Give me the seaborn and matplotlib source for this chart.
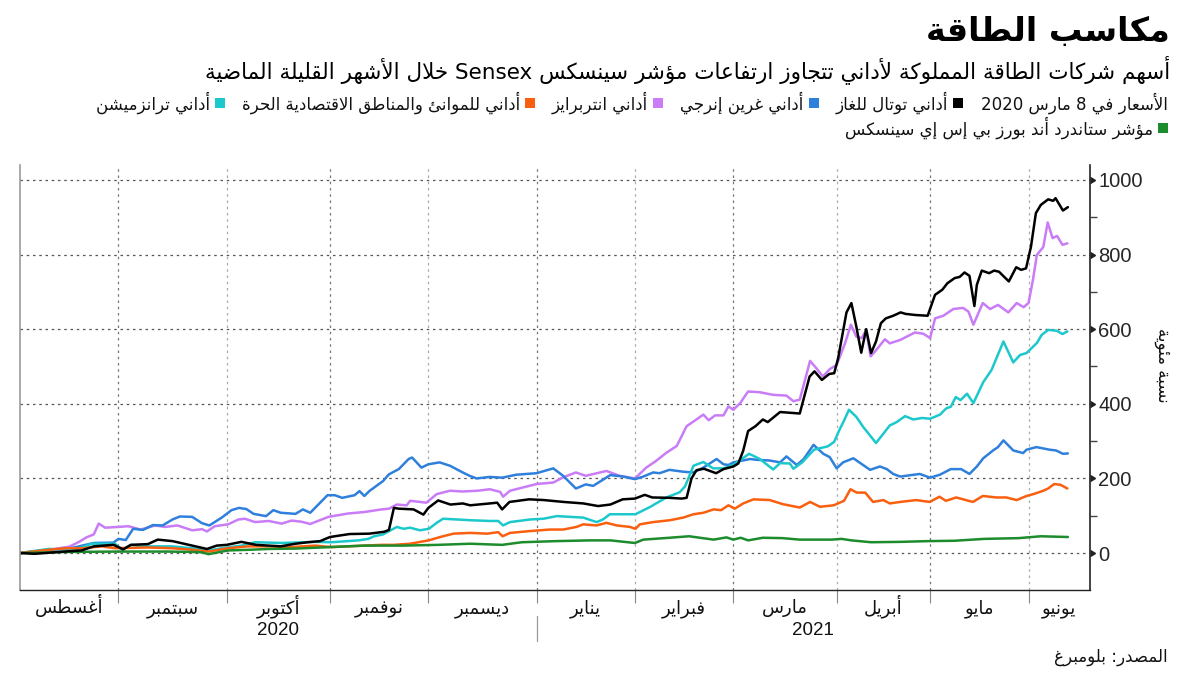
import re
import numpy as np
import pandas as pd
import matplotlib
matplotlib.use("Agg")
import matplotlib.pyplot as plt
from matplotlib.patches import Rectangle
from matplotlib.lines import Line2D
import seaborn as sns

# ---------------- Arabic shaping helper (matplotlib has no complex text layout) -------------
_AR = [('ء', 0xFE80, 1), ('آ', 0xFE81, 2), ('أ', 0xFE83, 2), ('ؤ', 0xFE85, 2), ('إ', 0xFE87, 2),
       ('ئ', 0xFE89, 4), ('ا', 0xFE8D, 2), ('ب', 0xFE8F, 4), ('ة', 0xFE93, 2), ('ت', 0xFE95, 4),
       ('ث', 0xFE99, 4), ('ج', 0xFE9D, 4), ('ح', 0xFEA1, 4), ('خ', 0xFEA5, 4), ('د', 0xFEA9, 2),
       ('ذ', 0xFEAB, 2), ('ر', 0xFEAD, 2), ('ز', 0xFEAF, 2), ('س', 0xFEB1, 4), ('ش', 0xFEB5, 4),
       ('ص', 0xFEB9, 4), ('ض', 0xFEBD, 4), ('ط', 0xFEC1, 4), ('ظ', 0xFEC5, 4), ('ع', 0xFEC9, 4),
       ('غ', 0xFECD, 4), ('ف', 0xFED1, 4), ('ق', 0xFED5, 4), ('ك', 0xFED9, 4), ('ل', 0xFEDD, 4),
       ('م', 0xFEE1, 4), ('ن', 0xFEE5, 4), ('ه', 0xFEE9, 4), ('و', 0xFEED, 2), ('ى', 0xFEEF, 2),
       ('ي', 0xFEF1, 4)]
_TABLE = {c: (b, n) for c, b, n in _AR}
_LAMALEF = {'آ': 0xFEF5, 'أ': 0xFEF7, 'إ': 0xFEF9, 'ا': 0xFEFB}


def _jt(item):
    kind, c = item
    if kind == 'LA':
        return 'R'
    if c in _TABLE:
        n = _TABLE[c][1]
        return 'D' if n == 4 else ('R' if n == 2 else 'U')
    return 'N'


def ar(text):
    items, i = [], 0
    while i < len(text):
        c = text[i]
        if c == 'ل' and i + 1 < len(text) and text[i + 1] in _LAMALEF:
            items.append(('LA', text[i + 1]))
            i += 2
        else:
            items.append(('C', c))
            i += 1
    out = []
    for k, it in enumerate(items):
        t = _jt(it)
        p = _jt(items[k - 1]) if k > 0 else 'N'
        q = _jt(items[k + 1]) if k + 1 < len(items) else 'N'
        jp = t in ('D', 'R') and p == 'D'
        jn = t == 'D' and q in ('D', 'R')
        if it[0] == 'LA':
            out.append(chr(_LAMALEF[it[1]] + (1 if jp else 0)))
        elif t in ('D', 'R'):
            b, _ = _TABLE[it[1]]
            f = 3 if (jp and jn) else (1 if jp else (2 if jn else 0))
            out.append(chr(b + f))
        elif t == 'U':
            out.append(chr(_TABLE[it[1]][0]))
        else:
            out.append(it[1])
    s = ''.join(out)[::-1]
    return re.sub(r'[A-Za-z0-9]+', lambda m: m.group(0)[::-1], s)


# ---------------- data (x = trading-day index from early Aug 2020) ----------------
total_gas = [(0, 0), (3, -2), (9, 4), (12.5, 7), (15, 18), (19, 22), (21, 10), (22.5, 22), (26, 24), (28, 36),
             (31, 32), (35, 20), (38, 11), (40, 20), (42, 22), (45, 30), (48, 22), (50.5, 20), (53, 18), (56, 25),
             (58.5, 29), (61, 32), (63, 43), (67, 51), (71, 52), (74, 57), (75, 62), (76, 121), (77, 119), (80, 117),
             (82, 103), (83, 121), (85, 141), (87.5, 130), (90, 133), (91.5, 128), (95.5, 133), (97, 135), (98, 117),
             (99.5, 137), (103.5, 144), (106.5, 142), (110.5, 137), (114.5, 133), (117.5, 126), (120, 130),
             (122.5, 144), (125, 146), (127, 156), (128.5, 149), (132, 148), (134.5, 146), (135.5, 148), (136.5, 200),
             (137.5, 222), (139, 226), (141.5, 214), (143, 225), (145, 232), (146, 240), (147, 274), (148, 327),
             (149.5, 340), (151, 358), (152, 351), (154.5, 378), (158.5, 374), (160.5, 473), (161.5, 487), (163, 464),
             (164.5, 480), (165.5, 482), (166.3, 522), (168, 645), (169, 670), (170, 607), (171, 537), (172, 600),
             (173, 536), (174, 567), (175, 616), (176, 629), (177.5, 636), (179, 645), (180, 641), (182, 638),
             (184.5, 636), (186, 692), (187.5, 706), (188.5, 723), (190, 737), (191, 740), (192, 752), (193, 743),
             (194, 662), (194.5, 719), (195.5, 757), (197, 750), (198, 757), (199, 754), (201, 728), (202.5, 766),
             (203.5, 759), (204.5, 763), (205.5, 821), (206.5, 911), (207.5, 933), (209, 948), (210, 944),
             (210.5, 951), (212, 918), (213, 927)]

green_energy = [(0, 0), (5, 8), (10, 12), (15, 27), (19, 28), (20, 38), (21.5, 35), (23, 65), (25, 62), (27, 75),
                (29, 74), (31, 90), (32.5, 98), (35, 97), (37, 80), (38.5, 74), (41, 95), (43, 115), (44.5, 121),
                (46, 118), (47.5, 105), (50, 99), (51.5, 115), (53, 108), (56, 105), (57.5, 117), (59, 108),
                (62.5, 155), (64, 155), (65.5, 148), (68, 155), (69, 166), (70, 153), (71, 166), (73.8, 193),
                (75, 211), (77, 225), (79, 252), (79.7, 256), (81.6, 229), (83, 238), (85.3, 243), (87.4, 234),
                (90, 216), (91.4, 207), (92.8, 200), (95.5, 204), (98, 202), (100.9, 210), (105, 214), (108.4, 227),
                (110.4, 207), (113, 173), (115, 184), (116.5, 180), (120, 209), (122.6, 205), (125, 198),
                (126.7, 205), (128.7, 216), (130, 214), (132, 223), (134.8, 218), (136.9, 216), (138.9, 229),
                (141.6, 252), (143, 238), (144, 236), (145, 243), (148.4, 252), (149.7, 250), (152.4, 248),
                (154.5, 243), (155.8, 259), (157.9, 236), (159.3, 252), (161.3, 290), (163.3, 266), (164.6, 257),
                (166, 227), (167.3, 243), (169.4, 254), (172.8, 223), (174.8, 232), (176.2, 225), (177.5, 212),
                (178.9, 205), (182.9, 212), (185, 202), (187, 210), (189.2, 225), (191.3, 225), (193, 212),
                (194.5, 232), (195.8, 254), (197.8, 275), (198.8, 284), (199.9, 302), (201.9, 275), (203.9, 268),
                (204.6, 277), (206.6, 284), (209.3, 277), (210.6, 275), (212, 266), (213, 267)]

enterprises = [(0, 0), (5, 7), (10, 17), (12, 30), (13.5, 42), (15, 50), (16, 79), (17.3, 68), (20, 70), (22, 72),
               (24.5, 63), (27.5, 74), (29.5, 70), (32, 74), (35, 61), (37, 64), (38, 58), (39.6, 72), (42.3, 77),
               (44.4, 90), (45.7, 92), (47.8, 83), (50.5, 86), (53.2, 79), (55.2, 87), (57.2, 84), (59, 78),
               (62.7, 97), (66.7, 106), (70, 110), (73.5, 117), (75, 119), (76.6, 130), (78.6, 128), (79.3, 140),
               (82.6, 135), (84.7, 158), (87.4, 167), (90, 165), (93, 167), (95.5, 171), (97.6, 164), (98.2, 151),
               (99.6, 167), (102.3, 176), (105, 185), (108.4, 189), (110.4, 203), (113, 216), (115, 207),
               (117.9, 216), (119.2, 220), (121.9, 207), (125, 200), (127.3, 229), (129.3, 247), (131.4, 269),
               (133.5, 287), (135.5, 340), (137.5, 358), (138.9, 371), (140, 356), (141.3, 369), (143, 369),
               (144, 393), (145, 384), (146.4, 402), (148, 433), (150.4, 431), (153.1, 424), (155.8, 422),
               (157.2, 407), (158.5, 411), (160.6, 515), (161.9, 495), (163.2, 473), (164.6, 493), (166, 504),
               (167.7, 562), (168.9, 612), (170, 580), (171.1, 576), (172, 598), (172.9, 527), (174.1, 545),
               (175.8, 573), (176.8, 562), (178.9, 571), (181.9, 591), (183.6, 588), (185, 576), (186, 629),
               (187.7, 636), (189.7, 654), (191.7, 657), (192.8, 647), (193.8, 612), (195.7, 670), (197.2, 654),
               (198.8, 665), (200.9, 645), (202.6, 670), (204, 659), (205, 670), (205.9, 732), (206.7, 799),
               (208, 820), (208.9, 886), (209.9, 844), (210.8, 850), (211.9, 826), (212.9, 830)]

ports = [(0, 0), (6, 9), (9.5, 13), (13, 13), (16.6, 18), (19.3, 13), (26, 15), (30.8, 13), (34.9, 9), (38.3, 4),
         (42.3, 13), (46.4, 18), (50.5, 18), (55.2, 16), (60, 20), (63.3, 16), (66.7, 18), (70.1, 20), (73.5, 22),
         (76, 22), (79.3, 25), (83.1, 34), (85.4, 43), (88.1, 52), (91.5, 54), (95, 52), (97.2, 56), (98.1, 45),
         (99.6, 54), (103.7, 59), (107.7, 63), (110.4, 63), (113.1, 70), (114.5, 77), (117.2, 74), (119.2, 81),
         (121.3, 74), (124, 70), (125.1, 65), (126, 77), (128.7, 83), (132.1, 88), (134.8, 95), (136.9, 104),
         (138.9, 108), (141, 117), (142.5, 115), (144, 128), (145.3, 119), (147, 133), (149.1, 144), (152.4, 142),
         (155.1, 131), (158.5, 122), (160.6, 137), (162.6, 124), (165.4, 128), (167.5, 140), (168.8, 171),
         (170.1, 162), (171.8, 162), (173.4, 137), (175.5, 142), (176.8, 133), (178.9, 137), (182.2, 142),
         (184.9, 137), (186.9, 151), (188.2, 140), (190.3, 149), (193.7, 137), (195.7, 153), (198.5, 149),
         (200.5, 149), (202.6, 142), (204.6, 153), (206, 158), (208, 167), (209, 173), (210.2, 185), (211.5, 183),
         (212.9, 173)]

transmission = [(0, 0), (5.8, 11), (11.2, 9), (13.2, 18), (14.6, 25), (19.3, 25), (20.7, 9), (22.7, 22), (24.7, 18),
                (30.8, 18), (34.9, 13), (38.3, 7), (41, 13), (45.1, 20), (47.8, 29), (53.2, 27), (60, 30),
                (63.3, 29), (68.8, 34), (70.8, 38), (72, 45), (73.8, 50), (76.6, 70), (78, 65), (79.3, 68),
                (81.3, 61), (83.1, 65), (84.7, 81), (86, 92), (88.8, 90), (91.5, 88), (95.5, 86), (97.2, 86),
                (98.2, 74), (99.6, 83), (103.7, 90), (106.4, 92), (109.1, 99), (111.8, 97), (114.5, 95), (117.2, 83),
                (118.5, 90), (119.9, 104), (122.6, 104), (125.1, 104), (128, 123), (131.4, 149), (134.1, 163),
                (135.2, 179), (136.9, 234), (138.9, 244), (140.9, 227), (143, 227), (145, 236), (148.2, 266),
                (150.4, 252), (153.1, 224), (154.5, 241), (156.5, 240), (157.2, 226), (159, 243), (161.4, 277),
                (164.2, 286), (165.5, 298), (166.6, 331), (167.5, 355), (168.5, 384), (170, 365), (171.4, 338),
                (174, 295), (175.5, 320), (176.8, 342), (178.2, 351), (179.9, 367), (181.6, 358), (183.3, 362),
                (185, 360), (187, 371), (188.3, 388), (189.2, 392), (190.2, 418), (191.2, 410), (192.5, 427),
                (193.8, 402), (195.8, 458), (197.5, 491), (199.9, 567), (201.9, 511), (203.3, 531), (204.6, 536),
                (206.7, 563), (207.7, 585), (209, 598), (210.7, 596), (211.9, 587), (212.9, 594)]

sensex = [(0, 0), (10, 3), (20, 4), (30, 4), (35, 3), (37, 2), (38.3, -3), (42.3, 7), (47, 9), (50.5, 11), (56, 12),
          (63, 16), (70, 20), (78, 20), (85, 22), (91.5, 25), (98, 22), (102, 29), (109, 32), (116, 34), (120, 34),
          (125, 27), (126.7, 36), (132, 41), (136, 45), (141, 36), (143.6, 42), (145, 36), (146.5, 41), (148, 34),
          (151, 41), (155, 40), (158.5, 36), (165, 36), (167, 38), (169, 34), (173, 29), (179, 30), (184.5, 32),
          (190, 33), (196, 38), (203, 40), (207.5, 45), (213, 43)]

series_names = ['أداني توتال للغاز', 'أداني غرين إنرجي', 'أداني انتربرايز',
                'أداني للموانئ والمناطق الاقتصادية الحرة', 'أداني ترانزميشن',
                'مؤشر ستاندرد أند بورز بي إس إي سينسكس']
series_data = [total_gas, green_energy, enterprises, ports, transmission, sensex]
series_colors = ['#000000', '#2f80dc', '#c97cf6', '#fa5f0f', '#1cc8cc', '#1c8c2c']

month_start_idx = [20, 42, 63, 83, 105, 125, 145, 166, 185, 205]
month_names = ['أغسطس', 'سبتمبر', 'أكتوبر', 'نوفمبر', 'ديسمبر', 'يناير', 'فبراير', 'مارس', 'أبريل', 'مايو', 'يونيو']
years = ['2020', '2021']
x_end = 217.5
y_ticks = [0, 200, 400, 600, 800, 1000]

title = 'مكاسب الطاقة'
subtitle = 'أسهم شركات الطاقة المملوكة لأداني تتجاوز ارتفاعات مؤشر سينسكس Sensex خلال الأشهر القليلة الماضية'
legend_title = 'الأسعار في 8 مارس 2020'
y_label = 'نسبة مئوية'
source = 'المصدر: بلومبرغ'

# ---------------- build long table ----------------
rows = []
for name, pts in zip(series_names, series_data):
    for x, v in pts:
        rows.append((name, x, v))
df = pd.DataFrame(rows, columns=['series', 'idx', 'value'])

sns.set_theme(style='white')
plt.rcParams['font.family'] = ['DejaVu Sans']

W, H = 1200, 675
fig = plt.figure(figsize=(12, 6.75), dpi=100)
ax = fig.add_axes([20 / W, 85 / H, 1070 / W, 425 / H])

draw_order = [2, 1, 4, 3, 5, 0]
for k in draw_order:
    sub = df[df['series'] == series_names[k]]
    sns.lineplot(data=sub, x='idx', y='value', color=series_colors[k], linewidth=1.8,
                 estimator=None, sort=True, ax=ax, legend=False)

ax.set_xlim(0, x_end)
ax.set_ylim(-99, 1040)
ax.set_xlabel('')
ax.set_ylabel('')

# y axis on the right
ax.yaxis.tick_right()
ax.set_yticks(y_ticks)
ax.set_yticklabels([str(v) for v in y_ticks], fontsize=14.5, family='Liberation Sans')
ax.set_yticks([100, 300, 500, 700, 900], minor=True)
ax.tick_params(axis='y', which='major', right=True, left=False, length=4, width=1, color='#222222', pad=2)
ax.tick_params(axis='y', which='minor', right=True, left=False, length=5, width=1, color='#444444')
for t in ax.yaxis.get_major_ticks():
    t.tick2line.set_marker(9)
    t.tick2line.set_markersize(5)
    t.tick2line.set_markerfacecolor('#222222')

# x axis: month boundaries as ticks, month names centred between
bounds = [0] + month_start_idx + [x_end]
centers = [(a + b) / 2 for a, b in zip(bounds[:-1], bounds[1:])]
ax.set_xticks(month_start_idx)
ax.set_xticklabels([])
ax.tick_params(axis='x', which='major', bottom=True, length=9, width=0.8, color='#888888')

trans = ax.get_xaxis_transform()
for c, m in zip(centers, month_names):
    ax.text(c, -0.055, ar(m), transform=trans, ha='center', va='baseline', fontsize=13, color='#111111')

ax.grid(False)
for v in y_ticks:
    ax.axhline(v, color='#555555', linestyle=(0, (2, 3)), linewidth=0.9, zorder=0)
for i, b in enumerate(month_start_idx):
    ax.axvline(b, color='#777777' if i % 2 == 0 else '#aaaaaa', linestyle=(0, (2, 3)),
               linewidth=0.9, zorder=0)

ax.spines['top'].set_visible(False)
ax.spines['left'].set_color('#999999')
ax.spines['left'].set_linewidth(1.2)
ax.spines['bottom'].set_color('#222222')
ax.spines['bottom'].set_linewidth(1.0)
ax.spines['right'].set_color('#222222')
ax.spines['right'].set_linewidth(1.2)

# years under the months
ax.text((0 + month_start_idx[4]) / 2, -0.095, years[0], transform=trans, ha='center', va='center',
        fontsize=13.5, color='#111111', family='Liberation Sans')
ax.text((month_start_idx[4] + x_end) / 2, -0.095, years[1], transform=trans, ha='center', va='center',
        fontsize=13.5, color='#111111', family='Liberation Sans')
ax.add_line(Line2D([month_start_idx[4]] * 2, [-0.06, -0.12], transform=trans, color='#999999',
                   linewidth=0.9, clip_on=False))


def ftext(x, y, s, **kw):
    return fig.text(x / W, 1 - y / H, s, **kw)


ftext(1170, 32, ar(title), ha='right', va='center', fontsize=24, fontweight='bold', color='#000000')
ftext(1170, 70, ar(subtitle), ha='right', va='center', fontsize=15.5, color='#000000')
ftext(1163, 365, ar(y_label), ha='center', va='center', rotation=270, fontsize=12, color='#111111')
ftext(1168, 657, ar(source), ha='right', va='center', fontsize=12, color='#111111')

# legend (right to left)
fig.canvas.draw()
rend = fig.canvas.get_renderer()
LEG_FS = 12
SQ = 10


def legend_item(cursor, y, name, color):
    fig.add_artist(Rectangle(((cursor - SQ) / W, 1 - (y + SQ / 2) / H), SQ / W, SQ / H,
                             transform=fig.transFigure, facecolor=color, edgecolor='none'))
    cursor -= SQ + 5
    t = ftext(cursor, y, ar(name), ha='right', va='center', fontsize=LEG_FS, color='#111111')
    return cursor - t.get_window_extent(rend).width - 17


t = ftext(1168, 103, ar(legend_title), ha='right', va='center', fontsize=LEG_FS, color='#111111')
cursor = 1168 - t.get_window_extent(rend).width - 18
for k in range(5):
    cursor = legend_item(cursor, 103, series_names[k], series_colors[k])
legend_item(1168, 128, series_names[5], series_colors[5])

fig.savefig('out.png', dpi=100)
